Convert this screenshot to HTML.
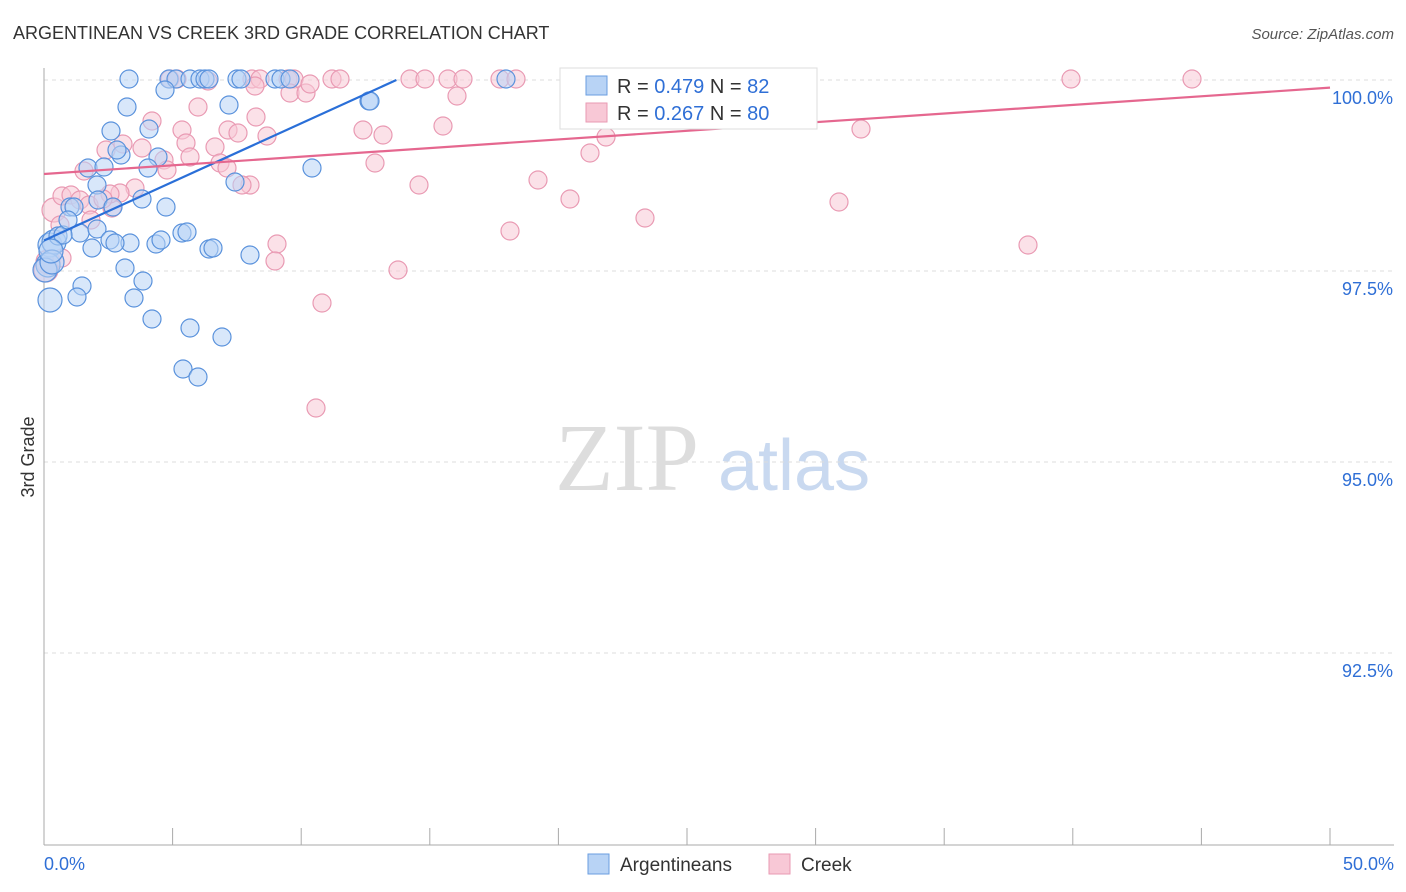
<!DOCTYPE html>
<html><head><meta charset="utf-8"><style>
body{margin:0;background:#fff;font-family:"Liberation Sans",sans-serif;}
svg{display:block}
</style></head><body>
<svg id="chart" width="1406" height="892">
<text x="13" y="39" font-size="18" fill="#333">ARGENTINEAN VS CREEK 3RD GRADE CORRELATION CHART</text>
<text x="1394" y="39" font-size="15" fill="#555" font-style="italic" text-anchor="end">Source: ZipAtlas.com</text>
<text x="34" y="457" font-size="18" fill="#333" transform="rotate(-90 34 457)" text-anchor="middle">3rd Grade</text>
<g><text x="555" y="490" font-size="96" fill="#ddd" font-family="Liberation Serif,serif">ZIP</text><text x="718" y="490" font-size="72" fill="#c9d9f0">atlas</text></g>
<g id="grid"></g><g id="axes"></g><g id="pts"></g><g id="lines"></g>
<g>
<rect x="560" y="68" width="257" height="61" fill="#fff" stroke="#ddd"/>
<rect x="586" y="76" width="21" height="19" fill="#b8d3f5" stroke="#6a9ee0"/>
<rect x="586" y="103" width="21" height="19" fill="#f8c8d6" stroke="#e99ab3"/>
<text x="617" y="93" font-size="20" fill="#333">R = <tspan fill="#2f6fd6">0.479</tspan>   N = <tspan fill="#2f6fd6">82</tspan></text>
<text x="617" y="120" font-size="20" fill="#333">R = <tspan fill="#2f6fd6">0.267</tspan>   N = <tspan fill="#2f6fd6">80</tspan></text>
</g>
<g>
<rect x="588" y="854" width="21" height="20" fill="#b8d3f5" stroke="#6a9ee0"/>
<text x="620" y="871" font-size="19" fill="#333">Argentineans</text>
<rect x="769" y="854" width="21" height="20" fill="#f8c8d6" stroke="#e99ab3"/>
<text x="801" y="871" font-size="19" fill="#333">Creek</text>
</g>
</svg>
<script>
const blueX=[129,169,176,190,200,205,209,237,241,275,281,290,506,165,127,229,369,111,149,121,117,158,148,312,88,104,97,235,70,74,98,113,142,166,80,97,110,130,115,156,161,182,187,209,213,250,50,54,58,92,48,45,52,125,143,82,77,134,50,152,190,222,183,198,370,63,68,51].map(p=>(p-44)*50/1286);
const blueY=[79,79,79,79,79,79,79,79,79,79,79,79,79,90,107,105,101,131,129,155,150,157,168,168,168,167,185,182,207,207,200,207,199,207,233,229,240,243,243,244,240,233,232,249,248,255,245,242,236,248,265,270,262,268,281,286,297,298,300,319,328,337,369,377,101,235,220,251].map(p=>100-(p-80)*2.5/191);
const pinkX=[170,177,252,260,288,294,332,340,410,425,448,463,500,516,633,692,1071,1192,290,306,255,208,457,198,152,182,228,256,310,363,383,443,861,106,123,142,186,215,238,267,164,190,220,227,375,590,606,84,167,135,54,62,71,80,89,120,112,250,242,419,538,570,645,839,91,60,510,277,275,398,1028,322,316,48,46,110,103,62].map(p=>(p-44)*50/1286);
const pinkY=[79,79,79,79,79,79,79,79,79,79,79,79,79,79,79,79,79,79,93,93,86,81,96,107,121,130,130,117,84,130,135,126,129,150,144,148,143,147,133,136,160,157,163,168,163,153,137,171,170,188,210,196,195,200,205,193,208,185,185,185,180,199,218,202,220,225,231,244,261,270,245,303,408,262,270,194,199,258].map(p=>100-(p-80)*2.5/191);
const blueTrendX=[0,13.7];const blueTrendY=[97.9,100];
const pinkTrendX=[0,50];const pinkTrendY=[98.77,99.9];
const yTicks=[100,97.5,95,92.5];const yTickLabels=["100.0%","97.5%","95.0%","92.5%"];
const xTicks=[0,5,10,15,20,25,30,35,40,45,50];
const NS='http://www.w3.org/2000/svg';
const sx=v=>44+v*1286/50, sy=v=>80+(100-v)*191/2.5;
function mk(t,a,p){const e=document.createElementNS(NS,t);for(const k in a)e.setAttribute(k,a[k]);p.appendChild(e);return e;}
const grid=document.getElementById('grid'),axes=document.getElementById('axes'),pts=document.getElementById('pts'),lines=document.getElementById('lines');
yTicks.forEach((v,i)=>{
const l=mk('line',{x1:44,x2:1394,y1:sy(v),y2:sy(v),stroke:'#ddd','stroke-dasharray':'4,4'},grid);


const t=mk('text',{x:1393,y:sy(v)+24,'font-size':18,fill:'#2f6fd6','text-anchor':'end'},axes);t.textContent=yTickLabels[i];


});
const ax=mk('line',{x1:44,x2:44,y1:68,y2:845,stroke:'#aaa'},axes);


const bx=mk('line',{x1:44,x2:1394,y1:845,y2:845,stroke:'#aaa'},axes);


xTicks.forEach(v=>{const t=mk('line',{x1:sx(v),x2:sx(v),y1:828,y2:845,stroke:'#aaa'},axes);

});
const x0=mk('text',{x:44,y:870,'font-size':18,fill:'#2f6fd6'},axes);x0.textContent='0.0%';


const x1=mk('text',{x:1394,y:870,'font-size':18,fill:'#2f6fd6','text-anchor':'end'},axes);x1.textContent='50.0%';


function dots(X,Y,fill,stroke,name){X.forEach((x,i)=>{const r=(x<0.4)?12:9;
const c=mk('circle',{cx:sx(x),cy:sy(Y[i]),r:r,fill:fill,'fill-opacity':0.55,stroke:stroke,'stroke-width':1.2},pts);

});}
dots(pinkX,pinkY,'#f8c8d6','#e99ab3','creek-point');
dots(blueX,blueY,'#b8d3f5','#5a92dc','argentinean-point');
const bl=mk('line',{x1:sx(blueTrendX[0]),y1:sy(blueTrendY[0]),x2:sx(blueTrendX[1]),y2:sy(blueTrendY[1]),stroke:'#2a6fd8','stroke-width':2.2},lines);


const pl=mk('line',{x1:sx(pinkTrendX[0]),y1:sy(pinkTrendY[0]),x2:sx(pinkTrendX[1]),y2:sy(pinkTrendY[1]),stroke:'#e5678f','stroke-width':2.2},lines);


</script>
</body></html>
